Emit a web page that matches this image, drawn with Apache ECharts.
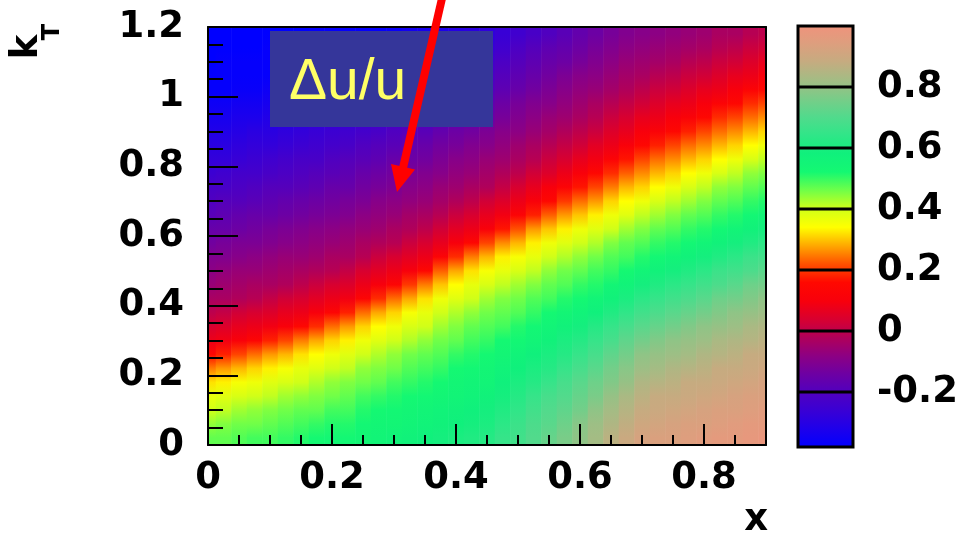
<!DOCTYPE html>
<html>
<head>
<meta charset="utf-8">
<script src="https://cdn.jsdelivr.net/npm/echarts@6/dist/echarts.min.js"></script>
<style>
  html, body { margin: 0; padding: 0; background: #ffffff; }
  #chart { width: 970px; height: 533px; }
</style>
</head>
<body>
<div id="chart"></div>
<script>
// x positions of the sampled columns
const xSamples = [0.000, 0.025, 0.050, 0.075, 0.100, 0.125, 0.150, 0.175, 0.200, 0.225,
                  0.250, 0.275, 0.300, 0.325, 0.350, 0.375, 0.400, 0.425, 0.450, 0.475,
                  0.500, 0.525, 0.550, 0.575, 0.600, 0.625, 0.650, 0.675, 0.700, 0.725,
                  0.750, 0.775, 0.800, 0.825, 0.850, 0.875, 0.900];
// kT bin centres
const kTCenters = [0.02, 0.06, 0.10, 0.14, 0.18, 0.22, 0.26, 0.30, 0.34, 0.38,
                   0.42, 0.46, 0.50, 0.54, 0.58, 0.62, 0.66, 0.70, 0.74, 0.78,
                   0.82, 0.86, 0.90, 0.94, 0.98, 1.02, 1.06, 1.10, 1.14, 1.18];

// Δu/u versus kT (ascending), one list per x column
const du_x0000 = [0.47,0.44,0.40,0.37,0.32,0.25,0.15,0.08,0.04,0.00,-0.03,-0.06,-0.08,-0.10,-0.13,-0.15,-0.18,-0.20,-0.22,-0.25,-0.27,-0.29,-0.31,-0.33,-0.35,-0.37,-0.37,-0.38,-0.38,-0.38];
const du_x0025 = [0.47,0.45,0.41,0.38,0.33,0.27,0.18,0.09,0.05,0.01,-0.03,-0.05,-0.07,-0.10,-0.12,-0.15,-0.17,-0.19,-0.22,-0.24,-0.27,-0.29,-0.31,-0.33,-0.35,-0.37,-0.37,-0.37,-0.38,-0.38];
const du_x0050 = [0.48,0.46,0.43,0.39,0.35,0.29,0.21,0.11,0.07,0.03,-0.02,-0.04,-0.06,-0.09,-0.11,-0.14,-0.16,-0.19,-0.21,-0.23,-0.26,-0.28,-0.30,-0.32,-0.34,-0.36,-0.37,-0.37,-0.38,-0.38];
const du_x0075 = [0.49,0.46,0.44,0.40,0.36,0.31,0.24,0.14,0.08,0.04,-0.01,-0.03,-0.06,-0.08,-0.11,-0.13,-0.15,-0.18,-0.20,-0.23,-0.25,-0.27,-0.29,-0.32,-0.34,-0.36,-0.37,-0.37,-0.38,-0.38];
const du_x0100 = [0.49,0.47,0.45,0.41,0.38,0.33,0.27,0.18,0.09,0.05,0.01,-0.03,-0.05,-0.07,-0.10,-0.12,-0.15,-0.17,-0.19,-0.22,-0.24,-0.27,-0.29,-0.31,-0.33,-0.35,-0.37,-0.37,-0.37,-0.38];
const du_x0125 = [0.50,0.48,0.46,0.43,0.39,0.35,0.29,0.21,0.11,0.07,0.03,-0.02,-0.04,-0.06,-0.09,-0.11,-0.14,-0.16,-0.19,-0.21,-0.23,-0.26,-0.28,-0.30,-0.32,-0.34,-0.36,-0.37,-0.37,-0.38];
const du_x0150 = [0.51,0.49,0.47,0.44,0.40,0.37,0.32,0.25,0.15,0.08,0.04,0.00,-0.03,-0.06,-0.08,-0.10,-0.13,-0.15,-0.18,-0.20,-0.22,-0.25,-0.27,-0.29,-0.31,-0.33,-0.35,-0.37,-0.37,-0.38];
const du_x0175 = [0.52,0.50,0.47,0.45,0.42,0.38,0.34,0.28,0.19,0.10,0.06,0.02,-0.02,-0.05,-0.07,-0.09,-0.12,-0.14,-0.17,-0.19,-0.22,-0.24,-0.26,-0.28,-0.30,-0.33,-0.35,-0.37,-0.37,-0.37];
const du_x0200 = [0.53,0.51,0.49,0.46,0.44,0.40,0.36,0.31,0.24,0.14,0.08,0.04,-0.01,-0.03,-0.06,-0.08,-0.11,-0.13,-0.15,-0.18,-0.20,-0.23,-0.25,-0.27,-0.29,-0.32,-0.34,-0.36,-0.37,-0.37];
const du_x0225 = [0.53,0.51,0.49,0.47,0.45,0.41,0.38,0.33,0.27,0.18,0.09,0.05,0.01,-0.03,-0.05,-0.07,-0.10,-0.12,-0.15,-0.17,-0.19,-0.22,-0.24,-0.27,-0.29,-0.31,-0.33,-0.35,-0.37,-0.37];
const du_x0250 = [0.54,0.53,0.51,0.49,0.46,0.44,0.40,0.36,0.31,0.24,0.14,0.08,0.04,-0.01,-0.03,-0.06,-0.08,-0.11,-0.13,-0.15,-0.18,-0.20,-0.23,-0.25,-0.27,-0.29,-0.32,-0.34,-0.36,-0.37];
const du_x0275 = [0.55,0.54,0.52,0.50,0.47,0.45,0.42,0.38,0.34,0.28,0.19,0.10,0.06,0.02,-0.02,-0.05,-0.07,-0.09,-0.12,-0.14,-0.17,-0.19,-0.22,-0.24,-0.26,-0.28,-0.30,-0.33,-0.35,-0.37];
const du_x0300 = [0.56,0.54,0.53,0.51,0.49,0.46,0.44,0.40,0.36,0.31,0.24,0.14,0.08,0.04,-0.01,-0.03,-0.06,-0.08,-0.11,-0.13,-0.15,-0.18,-0.20,-0.23,-0.25,-0.27,-0.29,-0.32,-0.34,-0.36];
const du_x0325 = [0.57,0.55,0.54,0.52,0.50,0.48,0.46,0.42,0.39,0.35,0.28,0.20,0.10,0.06,0.02,-0.02,-0.04,-0.07,-0.09,-0.11,-0.14,-0.16,-0.19,-0.21,-0.24,-0.26,-0.28,-0.30,-0.32,-0.34];
const du_x0350 = [0.58,0.56,0.55,0.53,0.51,0.49,0.47,0.44,0.40,0.37,0.32,0.25,0.15,0.08,0.04,0.00,-0.03,-0.06,-0.08,-0.10,-0.13,-0.15,-0.18,-0.20,-0.22,-0.25,-0.27,-0.29,-0.31,-0.33];
const du_x0375 = [0.59,0.57,0.56,0.54,0.52,0.50,0.48,0.46,0.43,0.40,0.36,0.30,0.23,0.13,0.07,0.03,-0.01,-0.04,-0.06,-0.09,-0.11,-0.13,-0.16,-0.18,-0.21,-0.23,-0.25,-0.28,-0.30,-0.32];
const du_x0400 = [0.60,0.58,0.57,0.55,0.54,0.52,0.50,0.47,0.45,0.42,0.38,0.34,0.28,0.19,0.10,0.06,0.02,-0.02,-0.05,-0.07,-0.09,-0.12,-0.14,-0.17,-0.19,-0.22,-0.24,-0.26,-0.28,-0.30];
const du_x0425 = [0.61,0.59,0.58,0.56,0.55,0.53,0.51,0.49,0.47,0.44,0.40,0.37,0.32,0.25,0.15,0.08,0.04,0.00,-0.03,-0.06,-0.08,-0.10,-0.13,-0.15,-0.18,-0.20,-0.22,-0.25,-0.27,-0.29];
const du_x0450 = [0.62,0.60,0.59,0.57,0.55,0.54,0.52,0.50,0.48,0.46,0.43,0.39,0.35,0.29,0.21,0.11,0.07,0.03,-0.02,-0.04,-0.06,-0.09,-0.11,-0.14,-0.16,-0.19,-0.21,-0.23,-0.26,-0.28];
const du_x0475 = [0.65,0.63,0.61,0.59,0.58,0.56,0.54,0.52,0.49,0.47,0.45,0.41,0.37,0.33,0.26,0.17,0.09,0.05,0.01,-0.02,-0.05,-0.07,-0.09,-0.12,-0.14,-0.17,-0.19,-0.21,-0.24,-0.26];
const du_x0500 = [0.67,0.66,0.64,0.62,0.60,0.58,0.56,0.53,0.51,0.48,0.46,0.43,0.39,0.35,0.29,0.22,0.13,0.08,0.04,0.00,-0.03,-0.05,-0.08,-0.10,-0.12,-0.15,-0.17,-0.19,-0.21,-0.24];
const du_x0525 = [0.70,0.69,0.67,0.65,0.62,0.60,0.58,0.55,0.53,0.50,0.48,0.45,0.41,0.37,0.33,0.27,0.18,0.11,0.07,0.03,-0.01,-0.03,-0.06,-0.08,-0.10,-0.13,-0.15,-0.17,-0.19,-0.22];
const du_x0550 = [0.73,0.71,0.70,0.68,0.65,0.62,0.60,0.57,0.55,0.52,0.49,0.47,0.44,0.40,0.36,0.30,0.23,0.15,0.10,0.05,0.02,-0.01,-0.04,-0.06,-0.09,-0.11,-0.13,-0.15,-0.17,-0.20];
const du_x0575 = [0.76,0.74,0.72,0.70,0.68,0.65,0.62,0.60,0.57,0.54,0.51,0.48,0.46,0.42,0.38,0.33,0.27,0.20,0.13,0.08,0.04,0.01,-0.02,-0.05,-0.07,-0.09,-0.11,-0.14,-0.16,-0.18];
const du_x0600 = [0.79,0.78,0.75,0.73,0.71,0.68,0.65,0.62,0.59,0.56,0.52,0.50,0.47,0.44,0.40,0.36,0.30,0.24,0.17,0.11,0.07,0.03,0.00,-0.03,-0.05,-0.07,-0.09,-0.12,-0.14,-0.16];
const du_x0625 = [0.82,0.81,0.79,0.76,0.74,0.71,0.68,0.65,0.62,0.58,0.55,0.51,0.49,0.46,0.42,0.38,0.33,0.27,0.21,0.15,0.09,0.06,0.02,-0.01,-0.03,-0.06,-0.08,-0.10,-0.12,-0.14];
const du_x0650 = [0.86,0.84,0.82,0.80,0.77,0.75,0.72,0.68,0.65,0.61,0.57,0.54,0.50,0.48,0.45,0.40,0.36,0.31,0.25,0.19,0.13,0.08,0.05,0.02,-0.01,-0.04,-0.06,-0.08,-0.10,-0.12];
const du_x0675 = [0.89,0.87,0.85,0.83,0.80,0.78,0.75,0.72,0.68,0.64,0.60,0.56,0.52,0.49,0.47,0.43,0.38,0.34,0.29,0.23,0.17,0.11,0.07,0.04,0.01,-0.02,-0.04,-0.06,-0.08,-0.10];
const du_x0700 = [0.92,0.90,0.88,0.86,0.84,0.81,0.79,0.75,0.71,0.67,0.63,0.59,0.55,0.51,0.48,0.45,0.41,0.36,0.31,0.26,0.21,0.15,0.10,0.07,0.03,0.00,-0.03,-0.05,-0.07,-0.09];
const du_x0725 = [0.93,0.91,0.89,0.88,0.85,0.82,0.80,0.77,0.73,0.69,0.65,0.61,0.57,0.53,0.50,0.47,0.43,0.39,0.34,0.29,0.24,0.18,0.12,0.08,0.05,0.02,-0.01,-0.04,-0.06,-0.08];
const du_x0750 = [0.93,0.92,0.90,0.88,0.86,0.84,0.81,0.79,0.75,0.71,0.67,0.63,0.59,0.55,0.51,0.48,0.45,0.41,0.36,0.31,0.26,0.21,0.15,0.10,0.07,0.03,0.00,-0.03,-0.05,-0.07];
const du_x0775 = [0.94,0.93,0.91,0.89,0.88,0.85,0.82,0.80,0.77,0.73,0.69,0.65,0.61,0.57,0.53,0.50,0.47,0.43,0.39,0.34,0.29,0.24,0.18,0.12,0.08,0.05,0.02,-0.01,-0.04,-0.06];
const du_x0800 = [0.95,0.93,0.92,0.90,0.88,0.86,0.84,0.81,0.79,0.75,0.71,0.67,0.63,0.59,0.55,0.51,0.48,0.45,0.41,0.36,0.31,0.26,0.21,0.15,0.10,0.07,0.03,0.00,-0.03,-0.05];
const du_x0825 = [0.96,0.94,0.93,0.91,0.89,0.88,0.85,0.83,0.80,0.77,0.74,0.69,0.66,0.61,0.57,0.53,0.50,0.47,0.44,0.39,0.34,0.29,0.24,0.19,0.13,0.08,0.05,0.02,-0.01,-0.03];
const du_x0850 = [0.96,0.95,0.93,0.92,0.90,0.88,0.86,0.84,0.81,0.79,0.75,0.71,0.67,0.63,0.59,0.55,0.51,0.48,0.45,0.41,0.36,0.31,0.26,0.21,0.15,0.10,0.07,0.03,0.00,-0.03];
const du_x0875 = [0.97,0.96,0.94,0.93,0.91,0.89,0.88,0.85,0.83,0.80,0.77,0.74,0.69,0.66,0.61,0.57,0.53,0.50,0.47,0.44,0.39,0.34,0.29,0.24,0.19,0.13,0.08,0.05,0.02,-0.01];
const du_x0900 = [0.98,0.96,0.95,0.93,0.92,0.90,0.88,0.86,0.84,0.81,0.79,0.75,0.71,0.67,0.63,0.59,0.55,0.51,0.48,0.45,0.41,0.36,0.31,0.26,0.21,0.15,0.10,0.07,0.03,0.00];

// Colour-scale range and its labelled divisions
const colorbarRange = [-0.38, 1.0];
const colorbarTicks = [-0.2, 0, 0.2, 0.4, 0.6, 0.8];

// ---------------------------------------------------------------------------
const X_STEP = 0.025;
const KT_MIN = 0, KT_MAX = 1.2;

const columns = [
  du_x0000, du_x0025, du_x0050, du_x0075, du_x0100, du_x0125, du_x0150, du_x0175,
  du_x0200, du_x0225, du_x0250, du_x0275, du_x0300, du_x0325, du_x0350, du_x0375,
  du_x0400, du_x0425, du_x0450, du_x0475, du_x0500, du_x0525, du_x0550, du_x0575,
  du_x0600, du_x0625, du_x0650, du_x0675, du_x0700, du_x0725, du_x0750, du_x0775,
  du_x0800, du_x0825, du_x0850, du_x0875, du_x0900
];
// one item per column: [x, Δu/u at each kT centre...]
const strips = columns.map((col, i) => [xSamples[i]].concat(col));

// Rainbow palette, evenly spaced over the colour-scale range
const palette = [
  '#0000ff', '#1c00ec', '#3800d6', '#5000c0', '#6c00a4', '#8c0084',
  '#b0005a', '#d80030', '#f8000c', '#ff0800', '#ff5000', '#ffa800',
  '#ffff00', '#d0ff18', '#70ff48', '#14f872', '#10f07c', '#30e688',
  '#52da8c', '#7acc88', '#a4bc84', '#c6ab80', '#de9e7e', '#f0927c'
];
function colorOf(v) {
  const t = (v - colorbarRange[0]) / (colorbarRange[1] - colorbarRange[0]);
  return echarts.color.lerp(Math.max(0, Math.min(1, t)), palette);
}

const FONT = 'DejaVu Sans';
const labelStyle = { color: '#000', fontFamily: FONT, fontWeight: 'bold', fontSize: 37 };

// Each column is painted as a vertical strip shaded through its kT values
function renderStrip(params, api) {
  const x = api.value(0);
  const top = api.coord([x - X_STEP / 2, KT_MAX]);
  const bottom = api.coord([x + X_STEP / 2, KT_MIN]);
  const h = bottom[1] - top[1];
  const stops = [];
  for (let j = kTCenters.length - 1; j >= 0; j--) {
    const py = api.coord([x, kTCenters[j]])[1];
    stops.push({ offset: (py - top[1]) / h, color: colorOf(api.value(j + 1)) });
  }
  stops.unshift({ offset: 0, color: stops[0].color });
  stops.push({ offset: 1, color: stops[stops.length - 1].color });
  return {
    type: 'rect',
    shape: { x: top[0], y: top[1], width: bottom[0] - top[0] + 0.6, height: h },
    style: { fill: { type: 'linear', x: 0, y: 0, x2: 0, y2: 1, colorStops: stops } }
  };
}

function renderColorbar(params, api) {
  const a = api.coord([0, api.value(2)]);
  const b = api.coord([1, api.value(1)]);
  return {
    type: 'rect',
    shape: { x: a[0], y: a[1], width: b[0] - a[0], height: b[1] - a[1] },
    style: {
      fill: {
        type: 'linear', x: 0, y: 1, x2: 0, y2: 0,
        colorStops: palette.map((c, i) => ({ offset: i / (palette.length - 1), color: c }))
      },
      stroke: '#000', lineWidth: 3
    }
  };
}

function renderDivider(params, api) {
  const a = api.coord([0, api.value(1)]);
  const b = api.coord([1, api.value(1)]);
  return {
    type: 'line',
    shape: { x1: a[0], y1: a[1], x2: b[0], y2: b[1] },
    style: { stroke: '#000', lineWidth: 3 }
  };
}

const chart = echarts.init(document.getElementById('chart'), null, { renderer: 'canvas' });

const hidden = { show: false };
chart.setOption({
  animation: false,
  backgroundColor: '#ffffff',
  grid: [
    { left: 208, right: 204, top: 27, bottom: 88, outerBoundsMode: 'none' },
    { left: 798, right: 117, top: 26, bottom: 80, outerBoundsMode: 'none' }
  ],
  xAxis: [
    { // x with labels and major ticks
      gridIndex: 0, type: 'value', position: 'bottom', min: 0, max: 0.9, interval: 0.2, z: 10,
      axisLine: { onZero: false, lineStyle: { color: '#000', width: 2 } },
      axisTick: { inside: true, length: 21, lineStyle: { color: '#000', width: 2 } },
      axisLabel: Object.assign({ margin: 15, showMaxLabel: false }, labelStyle),
      splitLine: hidden
    },
    { // minor ticks
      gridIndex: 0, type: 'value', position: 'bottom', min: 0, max: 0.9, interval: 0.05, z: 10,
      axisLine: { show: false, onZero: false },
      axisTick: { inside: true, length: 10, lineStyle: { color: '#000', width: 2 } },
      axisLabel: hidden, splitLine: hidden
    },
    { // top frame edge
      gridIndex: 0, type: 'value', position: 'top', min: 0, max: 0.9, z: 10,
      axisLine: { onZero: false, lineStyle: { color: '#000', width: 2 } },
      axisTick: hidden, axisLabel: hidden, splitLine: hidden
    },
    { gridIndex: 1, type: 'value', min: 0, max: 1, show: false }
  ],
  yAxis: [
    { // kT with labels and major ticks
      gridIndex: 0, type: 'value', position: 'left', min: KT_MIN, max: KT_MAX, interval: 0.2, z: 10,
      axisLine: { onZero: false, lineStyle: { color: '#000', width: 2 } },
      axisTick: { inside: true, length: 30, lineStyle: { color: '#000', width: 2 } },
      axisLabel: Object.assign({ margin: 24 }, labelStyle),
      splitLine: hidden
    },
    { // minor ticks
      gridIndex: 0, type: 'value', position: 'left', min: KT_MIN, max: KT_MAX, interval: 0.05, z: 10,
      axisLine: { show: false, onZero: false },
      axisTick: { inside: true, length: 15, lineStyle: { color: '#000', width: 2 } },
      axisLabel: hidden, splitLine: hidden
    },
    { // right frame edge
      gridIndex: 0, type: 'value', position: 'right', min: KT_MIN, max: KT_MAX, z: 10,
      axisLine: { onZero: false, lineStyle: { color: '#000', width: 2 } },
      axisTick: hidden, axisLabel: hidden, splitLine: hidden
    },
    { // colour-scale axis
      gridIndex: 1, type: 'value', position: 'right', min: -0.4, max: 1.0, interval: 0.2, z: 10,
      axisLine: { show: false, onZero: false }, axisTick: hidden, splitLine: hidden,
      axisLabel: Object.assign({ margin: 24, showMinLabel: false, showMaxLabel: false }, labelStyle)
    }
  ],
  series: [
    {
      type: 'custom', name: 'Δu/u', coordinateSystem: 'cartesian2d',
      xAxisIndex: 0, yAxisIndex: 0, clip: true,
      encode: { x: 0, y: 1 },
      renderItem: renderStrip, data: strips, z: 2
    },
    {
      type: 'custom', coordinateSystem: 'cartesian2d', xAxisIndex: 3, yAxisIndex: 3,
      renderItem: renderColorbar, data: [[0, colorbarRange[0], colorbarRange[1]]], z: 3
    },
    {
      type: 'custom', coordinateSystem: 'cartesian2d', xAxisIndex: 3, yAxisIndex: 3,
      encode: { x: 0, y: 1 },
      renderItem: renderDivider, data: colorbarTicks.map(v => [0, v]), z: 4
    }
  ],
  graphic: [
    { type: 'rect', z: 100, shape: { x: 270, y: 31, width: 223, height: 96 },
      style: { fill: '#35369a' } },
    { type: 'text', z: 101, x: 289, y: 83,
      style: { text: 'Δu/u', fill: '#ffff66', font: '57px "Liberation Sans"',
               align: 'left', verticalAlign: 'middle' } },
    { type: 'line', z: 102, shape: { x1: 443, y1: -6, x2: 403, y2: 168 },
      style: { stroke: '#ff0000', lineWidth: 8 } },
    { type: 'polygon', z: 102, shape: { points: [[397, 192], [415, 169.5], [391, 164]] },
      style: { fill: '#ff0000' } },
    { type: 'text', z: 101, x: 27, y: 47, rotation: Math.PI / 2,
      style: { text: 'k', fill: '#000', font: 'bold 37px "DejaVu Sans"',
               align: 'center', verticalAlign: 'middle' } },
    { type: 'text', z: 101, x: 53, y: 32, rotation: Math.PI / 2,
      style: { text: 'T', fill: '#000', font: 'bold 24px "DejaVu Sans"',
               align: 'center', verticalAlign: 'middle' } },
    { type: 'text', z: 101, x: 768, y: 520,
      style: { text: 'x', fill: '#000', font: 'bold 37px "DejaVu Sans"',
               align: 'right', verticalAlign: 'middle' } }
  ]
});
</script>
</body>
</html>
